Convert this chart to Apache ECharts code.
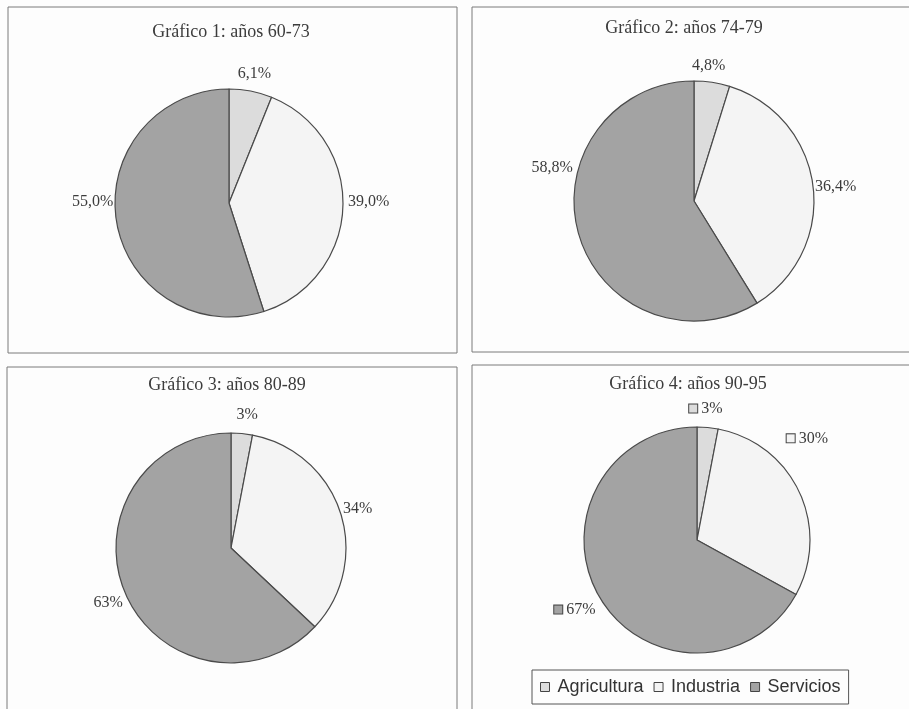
<!DOCTYPE html>
<html>
<head>
<meta charset="utf-8">
<script src="https://cdn.jsdelivr.net/npm/echarts@6/dist/echarts.min.js"></script>
<style>
  html, body { margin: 0; padding: 0; background: #fdfdfd; }
  #chart { width: 909px; height: 709px; }
</style>
</head>
<body>
<div id="chart"></div>
<script>
// Sectors and their fills
const sectors = ['Agricultura', 'Industria', 'Servicios'];
const sectorColors = ['#dcdcdc', '#f4f4f4', '#a3a3a3'];

// Chart titles for each period
const titles = ['Gráfico 1: años 60-73', 'Gráfico 2: años 74-79', 'Gráfico 3: años 80-89', 'Gráfico 4: años 90-95'];

// Share of each sector (%) per period
const period1 = [6.1, 39.0, 55.0];
const period2 = [4.8, 36.4, 58.8];
const period3 = [3, 34, 63];
const period4 = [3, 30, 67];

// Number of decimals shown in each chart's labels
const decimals = [1, 1, 0, 0];

const periods = [period1, period2, period3, period4];

// Layout of the four panels: pie centre, radius, frame and title position
const panels = [
  { center: [229, 203], radius: 114, box: [8, 7, 449, 346], title: [231, 32] },
  { center: [694, 201], radius: 120, box: [472, 7, 450, 345], title: [684, 28] },
  { center: [231, 548], radius: 115, box: [7, 367, 450, 360], title: [227, 385] },
  { center: [697, 540], radius: 113, box: [472, 365, 450, 360], title: [688, 384] }
];

// Small label shifts (px) away from the default outside placement
const labelShift = [
  [[-19, -11], [-6, -6], [8, -20]],
  [[-26, -11], [-9, 2], [5, -68]],
  [[-11, -13], [-8, -2], [8, 7]],
  [[-24, -13], [-23, -51], [6, 9]]
];

const serif = '"Liberation Serif", "Times New Roman", serif';
const textColor = '#3c3c3c';

function fmt(v, d) {
  return v.toFixed(d).replace('.', ',') + '%';
}

const series = periods.map((vals, i) => {
  const withKey = i === 3;
  return {
    type: 'pie',
    center: panels[i].center,
    radius: panels[i].radius,
    startAngle: 90,
    clockwise: true,
    animation: false,
    silent: true,
    itemStyle: { borderColor: '#4a4a4a', borderWidth: 1.2 },
    label: {
      show: true,
      position: 'outside',
      fontFamily: serif,
      fontSize: 16,
      color: textColor
    },
    labelLine: { show: false, length: 6, length2: 0 },
    labelLayout: function (p) {
      const s = labelShift[i][p.dataIndex];
      return { dx: s[0], dy: s[1] };
    },
    data: vals.map((v, k) => {
      const item = {
        name: sectors[k],
        value: v,
        itemStyle: { color: sectorColors[k] },
        label: {
          formatter: withKey ? '{box|}{t| ' + fmt(v, decimals[i]) + '}' : fmt(v, decimals[i])
        }
      };
      if (withKey) {
        item.label.rich = {
          box: {
            width: 8, height: 8,
            backgroundColor: sectorColors[k],
            borderColor: '#444', borderWidth: 1
          },
          t: { fontFamily: serif, fontSize: 16, color: textColor }
        };
      }
      return item;
    })
  };
});

const graphics = [];
panels.forEach((p, i) => {
  graphics.push({
    type: 'rect',
    shape: { x: p.box[0], y: p.box[1], width: p.box[2], height: p.box[3] },
    style: { fill: 'none', stroke: '#7a7a7a', lineWidth: 1 },
    silent: true
  });
  graphics.push({
    type: 'text',
    x: p.title[0],
    y: p.title[1],
    style: {
      text: titles[i],
      font: '18px ' + serif,
      fill: textColor,
      textAlign: 'center',
      textVerticalAlign: 'middle'
    },
    silent: true
  });
});

const chart = echarts.init(document.getElementById('chart'), null, { renderer: 'canvas' });
chart.setOption({
  backgroundColor: '#fdfdfd',
  animation: false,
  graphic: graphics,
  legend: {
    data: sectors,
    left: 532,
    top: 670,
    orient: 'horizontal',
    itemWidth: 9,
    itemHeight: 9,
    itemGap: 10,
    icon: 'rect',
    borderColor: '#555',
    borderWidth: 1,
    padding: [8, 8],
    borderRadius: 0,
    selectedMode: false,
    itemStyle: { borderColor: '#444', borderWidth: 1 },
    textStyle: {
      fontFamily: '"Liberation Sans", Arial, sans-serif',
      fontSize: 18,
      color: '#333',
      padding: [0, 0, 0, 3]
    }
  },
  series: series
});
</script>
</body>
</html>
